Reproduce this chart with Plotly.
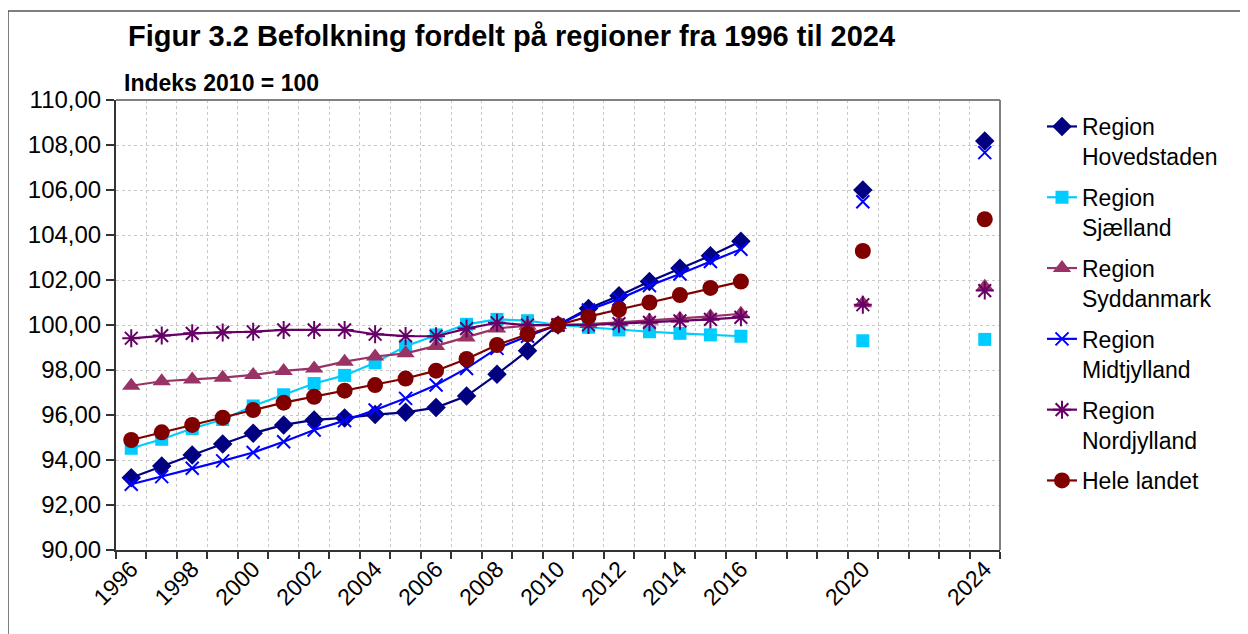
import plotly.graph_objects as go

# ---- data ----
obs_years = list(range(1996, 2017)) + [2020, 2024]
all_years = list(range(1996, 2025))

hovedstaden = [93.21, 93.73, 94.22, 94.71, 95.19, 95.56, 95.78, 95.87, 96.02, 96.12, 96.33,
               96.84, 97.81, 98.86, 100.00, 100.73, 101.30, 101.93, 102.52, 103.08, 103.72,
               106.00, 108.18]
sjaelland = [94.52, 94.92, 95.40, 95.80, 96.40, 96.90, 97.40, 97.76, 98.32, 99.06, 99.56,
             100.03, 100.25, 100.19, 100.00, 99.90, 99.78, 99.70, 99.63, 99.56, 99.50,
             99.30, 99.36]
syddanmark = [97.30, 97.50, 97.58, 97.66, 97.78, 97.96, 98.07, 98.37, 98.60, 98.74, 99.07,
              99.45, 99.85, 99.97, 100.00, 100.04, 100.12, 100.20, 100.28, 100.38, 100.50,
              100.97, 101.70]
midtjylland = [92.92, 93.26, 93.63, 93.96, 94.33, 94.81, 95.33, 95.75, 96.22, 96.74, 97.33,
               98.07, 98.96, 99.50, 100.00, 100.67, 101.16, 101.75, 102.27, 102.82, 103.37,
               105.48, 107.66]
nordjylland = [99.41, 99.53, 99.63, 99.67, 99.70, 99.78, 99.78, 99.78, 99.59, 99.51, 99.50,
               99.84, 100.10, 100.00, 100.00, 100.00, 100.06, 100.12, 100.18, 100.25, 100.34,
               100.90, 101.53]
hele_landet = [94.89, 95.23, 95.56, 95.88, 96.22, 96.55, 96.81, 97.08, 97.33, 97.62, 97.97,
               98.49, 99.11, 99.59, 100.00, 100.37, 100.69, 101.00, 101.33, 101.65, 101.93,
               103.29, 104.70]

tick_years = [1996, 1998, 2000, 2002, 2004, 2006, 2008, 2010, 2012, 2014, 2016, 2020, 2024]

series = [
    ("Region<br>Hovedstaden", hovedstaden, "#000080", "diamond", 15),
    ("Region<br>Sjælland", sjaelland, "#00CCFF", "square", 13),
    ("Region<br>Syddanmark", syddanmark, "#993366", "triangle-up", 16),
    ("Region<br>Midtjylland", midtjylland, "#0000FF", "x-thin-open", 13),
    ("Region<br>Nordjylland", nordjylland, "#660066", "asterisk-open", 15),
    ("Hele landet", hele_landet, "#800000", "circle", 16),
]


def full(vals):
    d = dict(zip(obs_years, vals))
    return [d.get(y) for y in all_years]


fig = go.Figure()
for i, (name, vals, color, sym, size) in enumerate(series):
    fig.add_trace(go.Scatter(
        x=all_years, y=full(vals), name=name, mode="lines+markers",
        connectgaps=False, legendgroup=f"g{i}",
        line=dict(color=color, width=2.2),
        marker=dict(symbol=sym, size=size, color=color,
                    line=dict(color=color, width=2 if "open" in sym else 0)),
    ))

# invisible trace on the label axis so it is drawn
fig.add_trace(go.Scatter(x=all_years, y=full(hele_landet), xaxis="x2", mode="markers",
                         marker=dict(opacity=0), showlegend=False, hoverinfo="skip"))

bounds = [y - 0.5 for y in all_years] + [all_years[-1] + 0.5]
font = "Liberation Sans, Arial, sans-serif"

# the page body adds an 8px offset, so margins are reduced by 8 on left/top
fig.update_layout(
    width=1248, height=634,
    margin=dict(l=108, r=256, t=92, b=92, autoexpand=False),
    paper_bgcolor="white", plot_bgcolor="white",
    separators=",.",
    font=dict(family=font, color="black", size=22),
    xaxis=dict(range=[1995.5, 2024.5], tickmode="array", tickvals=bounds,
               ticktext=[""] * len(bounds), ticks="outside", ticklen=7, tickwidth=1.5,
               tickcolor="#333", showline=True, linecolor="#333", linewidth=2,
               showgrid=True, gridcolor="#c8c8c8", griddash="dot", gridwidth=1,
               zeroline=False, automargin=False),
    xaxis2=dict(range=[1995.5, 2024.5], overlaying="x", anchor="y", side="bottom",
                tickmode="array", tickvals=tick_years, ticktext=[str(t) for t in tick_years],
                tickangle=-45, showgrid=False, showline=False, ticks="", zeroline=False,
                tickfont=dict(size=23, family=font), automargin=False),
    yaxis=dict(range=[90, 110], dtick=2, tick0=90, tickformat=".2f", ticks="outside",
               ticklen=8, tickwidth=1.5, tickcolor="#333", showline=True, linecolor="#333",
               linewidth=2, showgrid=True, gridcolor="#c8c8c8", griddash="dot",
               gridwidth=1, zeroline=False, tickfont=dict(size=24, family=font),
               automargin=False),
    legend=dict(x=(1042 - 116) / 884, y=(550 - 105) / 450, xanchor="left", yanchor="top",
                valign="top", tracegroupgap=8, font=dict(size=23, family=font),
                bgcolor="rgba(0,0,0,0)"),
    showlegend=True,
)

fig.add_annotation(text="<b>Figur 3.2 Befolkning fordelt på regioner fra 1996 til 2024</b>",
                   xref="paper", yref="paper", x=(126 - 116) / 884, y=(550 - 36) / 450,
                   xanchor="left", yanchor="middle", showarrow=False,
                   font=dict(size=29, family=font, color="black"))
fig.add_annotation(text="<b>Indeks 2010 = 100</b>",
                   xref="paper", yref="paper", x=(122 - 116) / 884, y=(550 - 83) / 450,
                   xanchor="left", yanchor="middle", showarrow=False,
                   font=dict(size=23, family=font, color="black"))

# plot-area border (top, right)
fig.add_shape(type="line", xref="paper", yref="paper", x0=0, x1=1, y0=1, y1=1,
              line=dict(color="#808080", width=2))
fig.add_shape(type="line", xref="paper", yref="paper", x0=1, x1=1, y0=0, y1=1,
              line=dict(color="#808080", width=2))
# outer chart frame (top, left)
fx = (8 - 116) / 884
fy = (550 - 11) / 450
fig.add_shape(type="line", xref="paper", yref="paper", x0=fx, x1=1.5, y0=fy, y1=fy,
              line=dict(color="#555555", width=1.5))
fig.add_shape(type="line", xref="paper", yref="paper", x0=fx, x1=fx, y0=fy, y1=-0.5,
              line=dict(color="#555555", width=1.5))

fig.write_html("out.html")
